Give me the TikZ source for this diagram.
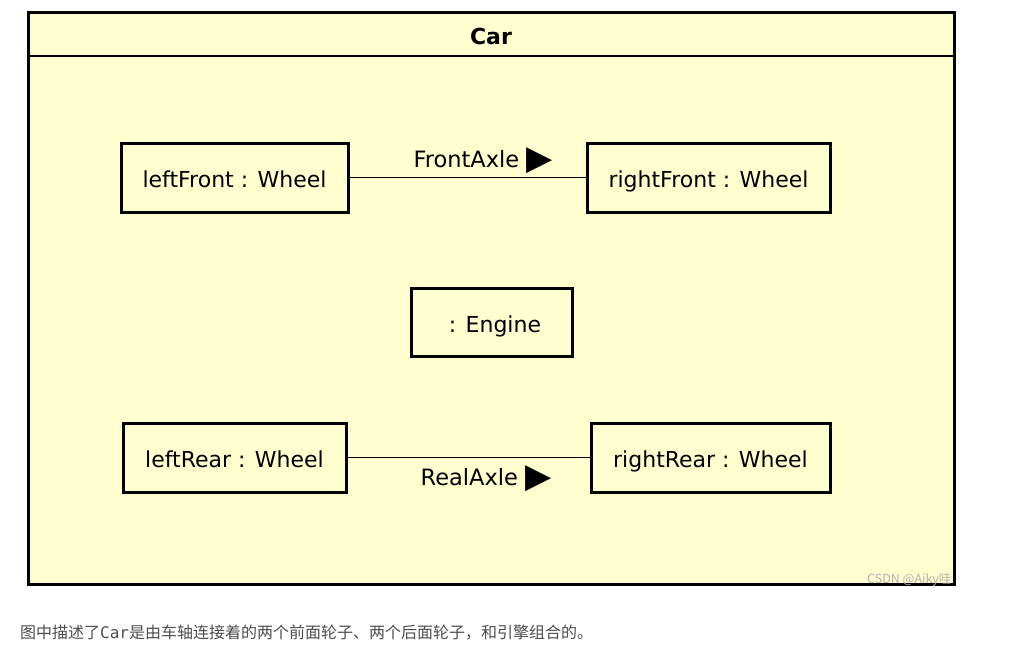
\documentclass[tikz,border=0pt]{standalone}
\usepackage{fontspec}
\setmainfont{DejaVu Sans}
\newfontfamily\cjk{Noto Sans CJK SC}
\newfontfamily\monofont{DejaVu Sans Mono}
\usetikzlibrary{positioning}
\definecolor{carfill}{HTML}{FEFECE}
\definecolor{captiongray}{HTML}{4D4D4D}
\tikzset{
  obj/.style={draw, line width=3pt, fill=carfill, minimum height=69pt,
    inner sep=0pt, text height=20pt, text depth=0pt,
    font=\fontsize{22}{26}\selectfont},
  axle/.style={line width=1.8pt},
  axlelabel/.style={font=\fontsize{22.5}{26}\selectfont, inner sep=0pt},
}

\begin{document}
\begin{tikzpicture}[x=1pt, y=-1pt]
        \useasboundingbox[fill=white] (0, 0) rectangle (1024, 648);

        % the Car container
        \draw[line width=3pt, fill=carfill] (28, 12) rectangle (954, 584);
        \draw[line width=1.5pt] (28, 56) -- (954, 56);
        \node[font=\bfseries\fontsize{22}{26}\selectfont] (carTitle) at (491, 36) {Car};

        % wheels and engine
        \node[obj, minimum width=227pt] (leftFront) at (234.5, 177.5) {leftFront : Wheel};
        \node[obj, minimum width=243pt] (rightFront) at (708.5, 177.5) {rightFront : Wheel};
        \node[obj, minimum width=161pt, minimum height=68pt] (engine) at (491.5, 322) {\ : Engine};
        \node[obj, minimum width=223pt] (leftRear) at (234.5, 457.5) {leftRear : Wheel};
        \node[obj, minimum width=239pt] (rightRear) at (710.5, 457.5) {rightRear : Wheel};

        % axles
        \draw[axle] (leftFront) -- (rightFront);
        \draw[axle] (leftRear) -- (rightRear);
        \node[axlelabel] (frontAxle) at (483, 161) {FrontAxle \raisebox{-2pt}{\fontsize{34}{34}\selectfont▶}};
        \node[axlelabel] (realAxle) at (486, 479) {RealAxle \raisebox{-2pt}{\fontsize{34}{34}\selectfont▶}};

        \node[anchor=east, text=gray!60, font=\cjk\fontsize{12.5}{14}\selectfont] (mark) at (955, 580) {CSDN @Aiky哇};

        \node[anchor=west, text=captiongray, inner sep=0pt, font=\cjk\fontsize{16}{18}\selectfont] (caption) at (20, 633)
        {图中描述了{\monofont Car}是由车轴连接着的两个前面轮子、两个后面轮子，和引擎组合的。};
    \end{tikzpicture}
\end{document}
